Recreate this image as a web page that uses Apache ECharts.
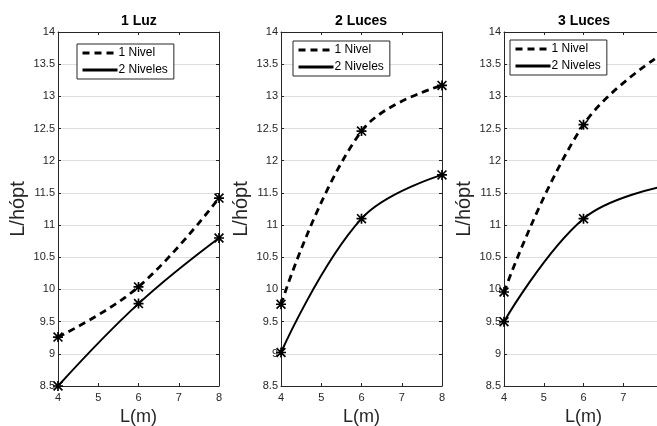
<!DOCTYPE html>
<html>
<head>
<meta charset="utf-8">
<script src="https://cdn.jsdelivr.net/npm/echarts@6/dist/echarts.min.js"></script>
<style>
html, body { margin: 0; padding: 0; background: #fff; }
#chart { width: 657px; height: 426px; }
</style>
</head>
<body>
<div id="chart"></div>
<script>
// datos
var panelTitles = ['1 Luz', '2 Luces', '3 Luces'];
var xValues = [4, 6, 8];
var unNivel1 = [9.26, 10.04, 11.42];
var dosNiveles1 = [8.5, 9.78, 10.8];
var unNivel2 = [9.77, 12.46, 13.17];
var dosNiveles2 = [9.02, 11.1, 11.78];
var unNivel3 = [9.96, 12.56, 13.67];
var dosNiveles3 = [9.5, 11.1, 11.6];
var xTicks = [4, 5, 6, 7, 8];
var yTicks = [8.5, 9, 9.5, 10, 10.5, 11, 11.5, 12, 12.5, 13, 13.5, 14];

var unNivel = [unNivel1, unNivel2, unNivel3];
var dosNiveles = [dosNiveles1, dosNiveles2, dosNiveles3];

var gridLeft = [58, 281, 504];
var gridWidth = [161, 161, 159];
var titleLeft = [116, 330, 553];
var legendPos = [[77, 44], [293, 41], [510, 40]];

var asterisco = 'path://M0 5H12V7H0Z M5 0H7V12H5Z M1.4 0L12 10.6L10.6 12L0 1.4Z M10.6 0L12 1.4L1.4 12L0 10.6Z';
var ink = '#262626';
var fuente = 'Liberation Sans, Arial, sans-serif';

function pares(ys) {
	var out = [];
	for (var i = 0; i < xValues.length; i++) {
		out.push([xValues[i], ys[i]]);
	}
	return out;
}

dibujar();
function dibujar() {
	var myChart = echarts.init(document.getElementById('chart'));
	var grids = [], xAxes = [], yAxes = [], series = [], titles = [], legends = [];

	for (var p = 0; p < 3; p++) {
		grids.push({ left: gridLeft[p], top: 32, width: gridWidth[p], height: 354, show: false,
			containLabel: false, outerBoundsMode: 'none' });

		titles.push({
			text: panelTitles[p], left: titleLeft[p], top: 9,
			textStyle: { fontFamily: fuente, fontSize: 14, fontWeight: 'bold', color: '#000' }
		});

		legends.push({
			data: ['1 Nivel', '2 Niveles'],
			orient: 'vertical', left: legendPos[p][0], top: legendPos[p][1],
			itemWidth: 35, itemHeight: 12, itemGap: 5,
			padding: [3, 6, 3, 4],
			backgroundColor: '#fff', borderColor: ink, borderWidth: 1, borderRadius: 0,
			selectedMode: false,
			itemStyle: { color: 'rgba(0,0,0,0)', borderColor: 'rgba(0,0,0,0)', borderWidth: 0 },
			lineStyle: { width: 3 },
			textStyle: { fontFamily: fuente, fontSize: 12, color: '#000', padding: [0, 0, 0, -4] }
		});

		xAxes.push({
			gridIndex: p, type: 'value', min: 4, max: 8, interval: 1, position: 'bottom',
			name: 'L(m)', nameLocation: 'middle', nameGap: 17,
			nameTextStyle: { fontFamily: fuente, fontSize: 18, color: ink },
			axisLine: { show: true, lineStyle: { color: ink, width: 1 } },
			axisTick: { show: true, inside: true, length: 3, lineStyle: { color: ink } },
			axisLabel: { fontFamily: fuente, fontSize: 11, color: ink, margin: 6,
				formatter: function (v) { return xTicks.indexOf(v) >= 0 ? String(v) : ''; } },
			splitLine: { show: false }
		});
		xAxes.push({
			gridIndex: p, type: 'value', min: 4, max: 8, interval: 1, position: 'top',
			axisLine: { show: true, lineStyle: { color: ink, width: 1 } },
			axisTick: { show: true, inside: true, length: 3, lineStyle: { color: ink } },
			axisLabel: { show: false }, splitLine: { show: false }
		});
		yAxes.push({
			gridIndex: p, type: 'value', min: 8.5, max: 14, interval: 0.5, position: 'left',
			name: 'L/hópt', nameLocation: 'middle', nameGap: 30,
			nameTextStyle: { fontFamily: fuente, fontSize: 20, color: ink },
			axisLine: { show: true, lineStyle: { color: ink, width: 1 } },
			axisTick: { show: true, inside: true, length: 3, lineStyle: { color: ink } },
			axisLabel: { fontFamily: fuente, fontSize: 11, color: ink, margin: 3,
				formatter: function (v) { return yTicks.indexOf(v) >= 0 ? String(v) : ''; } },
			splitLine: { show: true, lineStyle: { color: '#dedede', width: 1 } }
		});
		yAxes.push({
			gridIndex: p, type: 'value', min: 8.5, max: 14, interval: 0.5, position: 'right',
			axisLine: { show: true, lineStyle: { color: ink, width: 1 } },
			axisTick: { show: true, inside: true, length: 3, lineStyle: { color: ink } },
			axisLabel: { show: false }, splitLine: { show: false }
		});

		series.push({
			name: '1 Nivel', type: 'line', xAxisIndex: 2 * p, yAxisIndex: 2 * p,
			data: pares(unNivel[p]), smooth: 0.4,
			symbol: asterisco, symbolSize: 10,
			itemStyle: { color: '#000' },
			lineStyle: { color: '#000', width: 2.8, type: [7, 5] },
			z: 3
		});
		series.push({
			name: '2 Niveles', type: 'line', xAxisIndex: 2 * p, yAxisIndex: 2 * p,
			data: pares(dosNiveles[p]), smooth: 0.4,
			symbol: asterisco, symbolSize: 10,
			itemStyle: { color: '#000' },
			lineStyle: { color: '#000', width: 2 },
			z: 3
		});
	}

	var option = {
		backgroundColor: '#fff',
		animation: false,
		title: titles,
		legend: legends,
		grid: grids,
		xAxis: xAxes,
		yAxis: yAxes,
		series: series
	};
	myChart.setOption(option);
}
</script>
</body>
</html>
